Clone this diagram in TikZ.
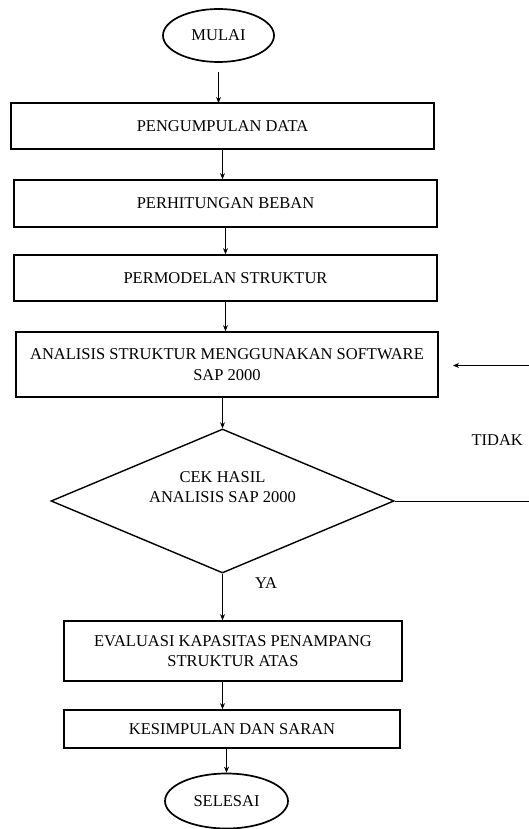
\documentclass[tikz,border=0pt]{standalone}
\usepackage{fontspec}
\setmainfont{Liberation Serif}
\usetikzlibrary{shapes.geometric,arrows.meta}
\begin{document}
\begin{tikzpicture}[x=1pt,y=-1pt,
  txt/.style={font=\fontsize{16.5}{20.5}\selectfont, align=center, text=black},
  procbox/.style={draw, line width=1.7pt, txt, inner sep=0pt},
  term/.style={draw, ellipse, line width=1.7pt, txt, inner sep=0pt},
  decision/.style={draw, diamond, line width=1.4pt, inner sep=0pt, minimum width=343pt, minimum height=144pt, aspect=2.38},
  arr/.style={line width=0.9pt, -{Stealth[length=6pt,width=5pt]}},
  ln/.style={line width=0.9pt}]
\useasboundingbox (0,0) rectangle (528,829);
\node[term, minimum width=111pt, minimum height=53pt] (mulai) at (218.5,35.5) {MULAI};
\node[procbox, minimum width=423pt, minimum height=46pt] (b1) at (222.5,126) {PENGUMPULAN DATA};
\node[procbox, minimum width=423pt, minimum height=47pt] (b2) at (225.5,203.5) {PERHITUNGAN BEBAN};
\node[procbox, minimum width=423pt, minimum height=46pt] (b3) at (225.5,278) {PERMODELAN STRUKTUR};
\node[procbox, minimum width=422pt, minimum height=65pt] (b4) at (227,364.5) {ANALISIS STRUKTUR MENGGUNAKAN SOFTWARE\\SAP 2000};
\node[decision] (dec) at (222.5,501) {};
\node[txt] (dectxt) at (222.5,487) {CEK HASIL\\ANALISIS SAP 2000};
\node[procbox, minimum width=338pt, minimum height=60pt] (b5) at (233,651) {EVALUASI KAPASITAS PENAMPANG\\STRUKTUR ATAS};
\node[procbox, minimum width=336pt, minimum height=38pt] (b6) at (232,729) {KESIMPULAN DAN SARAN};
\node[term, minimum width=123pt, minimum height=55pt] (selesai) at (226.5,801) {SELESAI};
\node[txt, anchor=west] (tidak) at (468,440) {TIDAK};
\node[txt] (ya) at (266,583) {YA};
\coordinate (r1) at (540,501);
\coordinate (r2) at (540,365.5);
\draw[arr] (218.5,72) -- (218.5,103);
\draw[arr] (b1.south) ++(0,0) -- (b2.north -| b1.south);
\draw[arr] (b2.south) -- (b3.north);
\draw[arr] (b3.south) -- (b4.north -| b3.south);
\draw[arr] (b4.south -| dec.north) -- (dec.north);
\draw[arr] (dec.south) -- (b5.north -| dec.south);
\draw[arr] (b5.south -| dec.south) -- (b6.north -| dec.south);
\draw[arr] (b6.south -| selesai.north) -- (selesai.north);
\draw[ln] (dec.east) -- (r1) -- (r2);
\draw[arr] (r2) -- (453,365.5);
\end{tikzpicture}
\end{document}
